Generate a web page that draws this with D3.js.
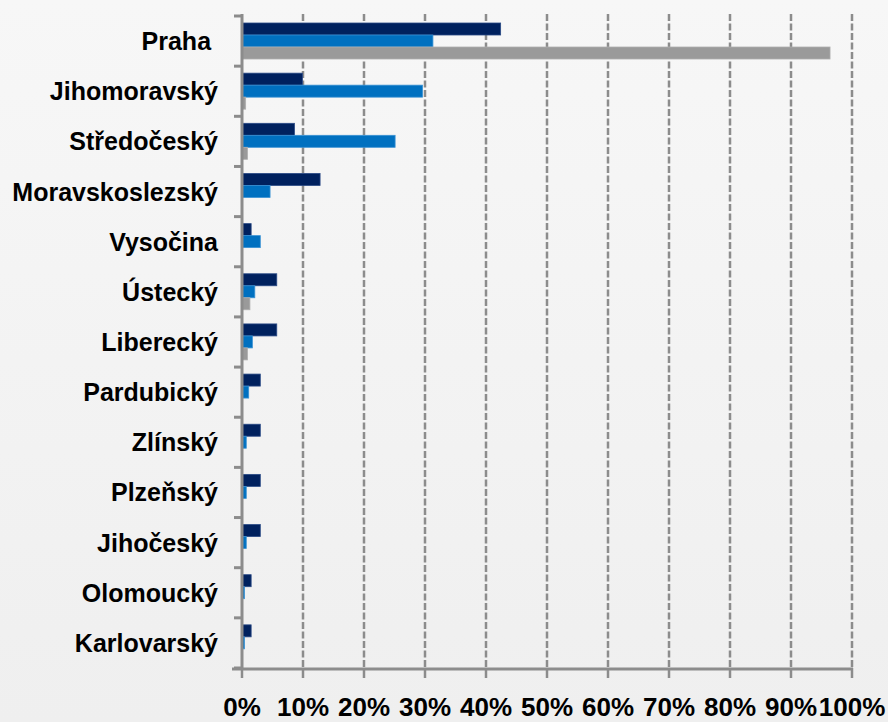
<!DOCTYPE html>
<html>
<head>
<meta charset="utf-8">
<script src="https://cdn.jsdelivr.net/npm/d3@7/dist/d3.min.js"></script>
<style>
  html, body { margin: 0; padding: 0; background: #f2f2f2; }
  svg { display: block; }
  text { font-family: "Liberation Sans", Arial, sans-serif; font-weight: bold; fill: #000; }
</style>
</head>
<body>
<svg id="chart" width="888" height="722"></svg>
<script>
const categories = ["Praha ", "Jihomoravský", "Středočeský", "Moravskoslezský", "Vysočina", "Ústecký",
  "Liberecký", "Pardubický", "Zlínský", "Plzeňský", "Jihočeský", "Olomoucký", "Karlovarský"];
const seriesNames = ["s1", "s2", "s3"];
const seriesA = [42.4, 9.9, 8.6, 12.8, 1.5, 5.7, 5.7, 3.0, 3.0, 3.0, 3.0, 1.5, 1.5];
const seriesB = [31.3, 29.6, 25.1, 4.6, 3.0, 2.1, 1.7, 1.1, 0.7, 0.7, 0.7, 0.4, 0.4];
const seriesC = [96.4, 0.6, 0.9, 0.0, 0.0, 1.3, 0.9, 0.0, 0.0, 0.0, 0.0, 0.0, 0.0];
const tickValues = [0, 10, 20, 30, 40, 50, 60, 70, 80, 90, 100];
const tickLabels = ["0%", "10%", "20%", "30%", "40%", "50%", "60%", "70%", "80%", "90%", "100%"];
const colors = ["#00215e", "#0070c0", "#9a9a9a"];
const strokes = ["#2a4a86", "#3a92d4", "#b0b0b0"];

(function () {
const svg = d3.select("#chart");
const W = 888, H = 722;
const pLeft = 242, pRight = 852, pTop = 16, pBottom = 668;

const defs = svg.append("defs");
const grad = defs.append("linearGradient").attr("id", "bg").attr("x1", 0).attr("y1", 0).attr("x2", 0).attr("y2", 1);
grad.append("stop").attr("offset", "0%").attr("stop-color", "#f7f7f7");
grad.append("stop").attr("offset", "100%").attr("stop-color", "#efefef");
svg.append("rect").attr("width", W).attr("height", H).attr("fill", "url(#bg)");

const x = d3.scaleLinear().domain([0, 100]).range([pLeft, pRight]);
const y = d3.scaleBand().domain(categories).range([pTop, pBottom]).paddingInner(0).paddingOuter(0);
const ys = d3.scaleBand().domain(seriesNames).range([7, 43]);

// gridlines
svg.append("g").selectAll("line").data(tickValues.filter(d => d > 0)).join("line")
  .attr("x1", d => x(d)).attr("x2", d => x(d))
  .attr("y1", pTop - 2).attr("y2", pBottom)
  .attr("stroke", "#8c8c8c").attr("stroke-width", 2.5)
  .attr("stroke-dasharray", "7,2.5");

// bars
const series = [seriesA, seriesB, seriesC];
const g = svg.append("g");
series.forEach((vals, si) => {
  g.selectAll(".b" + si).data(categories.map((c, i) => ({ c, v: vals[i] })).filter(d => d.v > 0)).join("rect")
    .attr("class", "b" + si)
    .attr("x", x(0))
    .attr("y", d => y(d.c) + ys(seriesNames[si]))
    .attr("width", d => x(d.v) - x(0))
    .attr("height", ys.bandwidth())
    .attr("fill", colors[si])
    .attr("stroke", strokes[si]).attr("stroke-width", 0.8);
});

// y axis
const yAxis = svg.append("g");
yAxis.append("line").attr("x1", pLeft).attr("x2", pLeft).attr("y1", pTop - 2).attr("y2", pBottom + 1)
  .attr("stroke", "#8c8c8c").attr("stroke-width", 3);
const bounds = categories.map(c => y(c)).concat([pBottom]);
yAxis.selectAll(".yt").data(bounds).join("line")
  .attr("class", "yt")
  .attr("x1", pLeft - 8).attr("x2", pLeft).attr("y1", d => d).attr("y2", d => d)
  .attr("stroke", "#8c8c8c").attr("stroke-width", 3);
yAxis.selectAll("text").data(categories).join("text")
  .attr("x", 218).attr("y", d => y(d) + y.bandwidth() / 2)
  .attr("dy", "0.36em")
  .attr("text-anchor", "end")
  .style("font-size", "25px")
  .style("white-space", "pre")
  .text(d => d);

// x axis
const xAxis = svg.append("g");
xAxis.append("line").attr("x1", pLeft - 10).attr("x2", pRight + 1).attr("y1", pBottom + 1).attr("y2", pBottom + 1)
  .attr("stroke", "#8c8c8c").attr("stroke-width", 3);
xAxis.selectAll(".xt").data(tickValues).join("line")
  .attr("class", "xt")
  .attr("x1", d => x(d)).attr("x2", d => x(d)).attr("y1", pBottom).attr("y2", pBottom + 10)
  .attr("stroke", "#8c8c8c").attr("stroke-width", 2.5);
xAxis.selectAll("text").data(tickValues).join("text")
  .attr("x", d => x(d)).attr("y", 716)
  .attr("text-anchor", "middle")
  .style("font-size", "26px")
  .text((d, i) => tickLabels[i]);
})();
</script>
</body>
</html>
